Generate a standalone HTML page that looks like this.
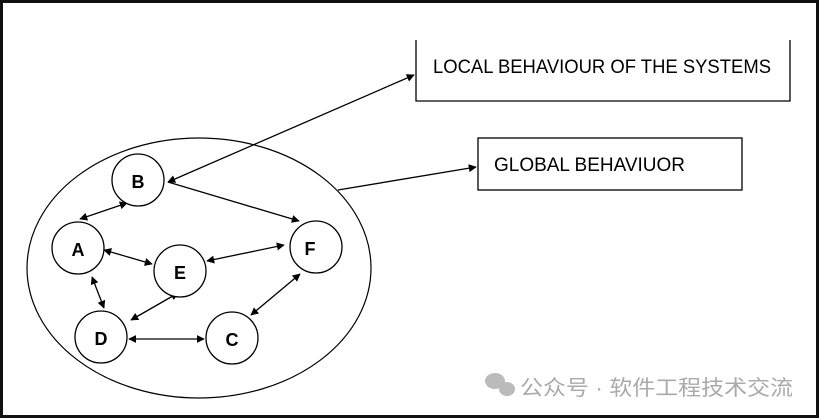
<!DOCTYPE html>
<html><head><meta charset="utf-8"><style>
html,body{margin:0;padding:0;background:#fff;}
svg{display:block;}
text{font-family:"Liberation Sans","Noto Sans CJK SC",sans-serif;}
</style></head><body>
<svg width="820" height="419" viewBox="0 0 820 419" xmlns="http://www.w3.org/2000/svg">
<defs>
<marker id="a" viewBox="0 0 10 10" refX="9" refY="5" markerWidth="8" markerHeight="8" orient="auto-start-reverse" markerUnits="userSpaceOnUse">
<path d="M0,0 L10,5 L0,10 z" fill="#000"/></marker>
</defs>
<rect x="1.5" y="1.5" width="816" height="415" fill="#fff" stroke="#111" stroke-width="3"/>
<path d="M416,40 V101 H790 V40" fill="none" stroke="#000" stroke-width="1.3"/>
<text x="433" y="73" font-size="19" textLength="338" lengthAdjust="spacingAndGlyphs">LOCAL BEHAVIOUR OF THE SYSTEMS</text>
<rect x="478" y="138" width="264" height="52" fill="none" stroke="#000" stroke-width="1.3"/>
<text x="494" y="171" font-size="19" textLength="191" lengthAdjust="spacingAndGlyphs">GLOBAL BEHAVIUOR</text>
<ellipse cx="199" cy="268" rx="172" ry="130" fill="none" stroke="#000" stroke-width="1.2"/>
<g stroke="#000" stroke-width="1.3" fill="none">
<line x1="168" y1="182" x2="414" y2="75" marker-start="url(#a)" marker-end="url(#a)"/>
<line x1="338" y1="190" x2="476" y2="167" marker-end="url(#a)"/>
<line x1="80" y1="219" x2="127" y2="203" marker-start="url(#a)" marker-end="url(#a)"/>
<line x1="168" y1="182" x2="299" y2="221" marker-end="url(#a)"/>
<line x1="104" y1="250" x2="152" y2="264" marker-start="url(#a)" marker-end="url(#a)"/>
<line x1="207" y1="261" x2="284" y2="245" marker-start="url(#a)" marker-end="url(#a)"/>
<line x1="92" y1="277" x2="104" y2="308" marker-start="url(#a)" marker-end="url(#a)"/>
<line x1="131" y1="320" x2="178" y2="293" marker-start="url(#a)" marker-end="url(#a)"/>
<line x1="129" y1="339" x2="204" y2="339" marker-start="url(#a)" marker-end="url(#a)"/>
<line x1="251" y1="315" x2="300" y2="274" marker-start="url(#a)" marker-end="url(#a)"/>
</g>
<g fill="#fff" stroke="#000" stroke-width="1.3">
<circle cx="138" cy="180" r="26"/>
<circle cx="78" cy="248" r="26"/>
<circle cx="180" cy="271" r="26"/>
<circle cx="316" cy="247" r="26"/>
<circle cx="101" cy="337" r="26"/>
<circle cx="232" cy="338" r="26"/>
</g>
<g font-size="18" font-weight="bold" text-anchor="middle">
<text x="138" y="188">B</text>
<text x="78" y="256">A</text>
<text x="180" y="279">E</text>
<text x="310" y="255">F</text>
<text x="101" y="345">D</text>
<text x="232" y="346">C</text>
</g>
<g fill="#bbb">
<ellipse cx="495" cy="381" rx="10" ry="8"/>
<ellipse cx="507" cy="389" rx="8" ry="7"/>
</g>
<text x="520" y="395" font-size="21" fill="#aaa" textLength="273" lengthAdjust="spacingAndGlyphs">公众号 · 软件工程技术交流</text>
</svg>
</body></html>
